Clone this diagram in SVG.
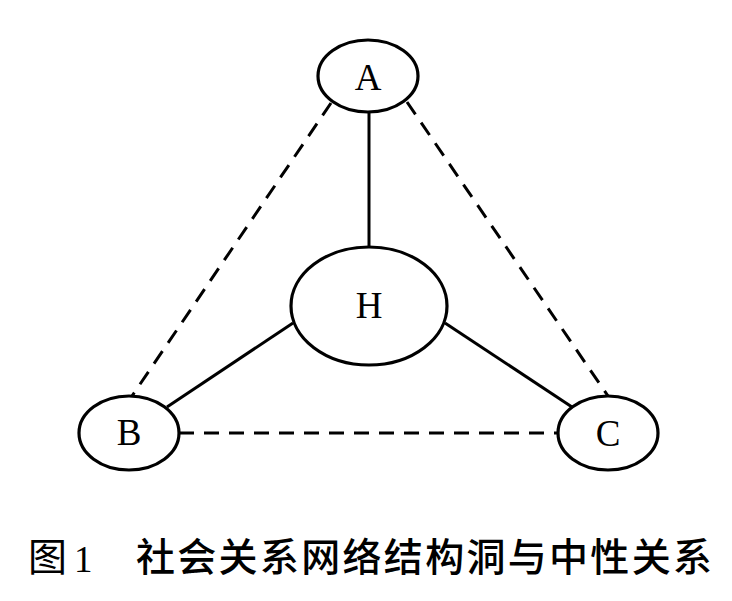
<svg xmlns="http://www.w3.org/2000/svg" width="732" height="601" viewBox="0 0 732 601">
<style>
.node ellipse{fill:#fff;stroke:#000;stroke-width:3.2}
.node text{font-family:"Liberation Serif","Times New Roman",serif;font-size:37px;fill:#000;text-anchor:middle}
.solid{stroke:#000;stroke-width:3;fill:none}
.dash{stroke:#000;stroke-width:3;fill:none;stroke-dasharray:15 10}
.cap{font-family:"Noto Sans CJK SC","Noto Sans",sans-serif;font-size:39px;fill:#000}
</style>
<rect width="732" height="601" fill="#fff"/>
<g id="connectors">
<line class="solid" x1="369" y1="112" x2="369" y2="247"/>
<line class="solid" x1="293" y1="323" x2="167" y2="407"/>
<line class="solid" x1="445" y1="323" x2="572" y2="407"/>
<line class="dash" x1="331" y1="103" x2="132" y2="396"/>
<line class="dash" x1="407" y1="102" x2="608" y2="396"/>
<line class="dash" x1="179" y1="433" x2="559" y2="433"/>
</g>
<g id="node-A" class="node"><ellipse cx="368" cy="76" rx="50" ry="36"/><text x="368" y="90">A</text></g>
<g id="node-H" class="node"><ellipse cx="369" cy="306" rx="78" ry="59"/><text x="369" y="318">H</text></g>
<g id="node-B" class="node"><ellipse cx="129" cy="433" rx="50" ry="37"/><text x="129" y="445">B</text></g>
<g id="node-C" class="node"><ellipse cx="608" cy="433" rx="50" ry="37"/><text x="608" y="446">C</text></g>
<g id="caption">
<text class="cap" x="28" y="571">图</text>
<text x="74" y="572" style="font-family:'Liberation Serif',serif;font-size:37px">1</text>
<text class="cap" x="136" y="571" textLength="576" lengthAdjust="spacing" style="font-weight:500">社会关系网络结构洞与中性关系</text>
</g>
</svg>
